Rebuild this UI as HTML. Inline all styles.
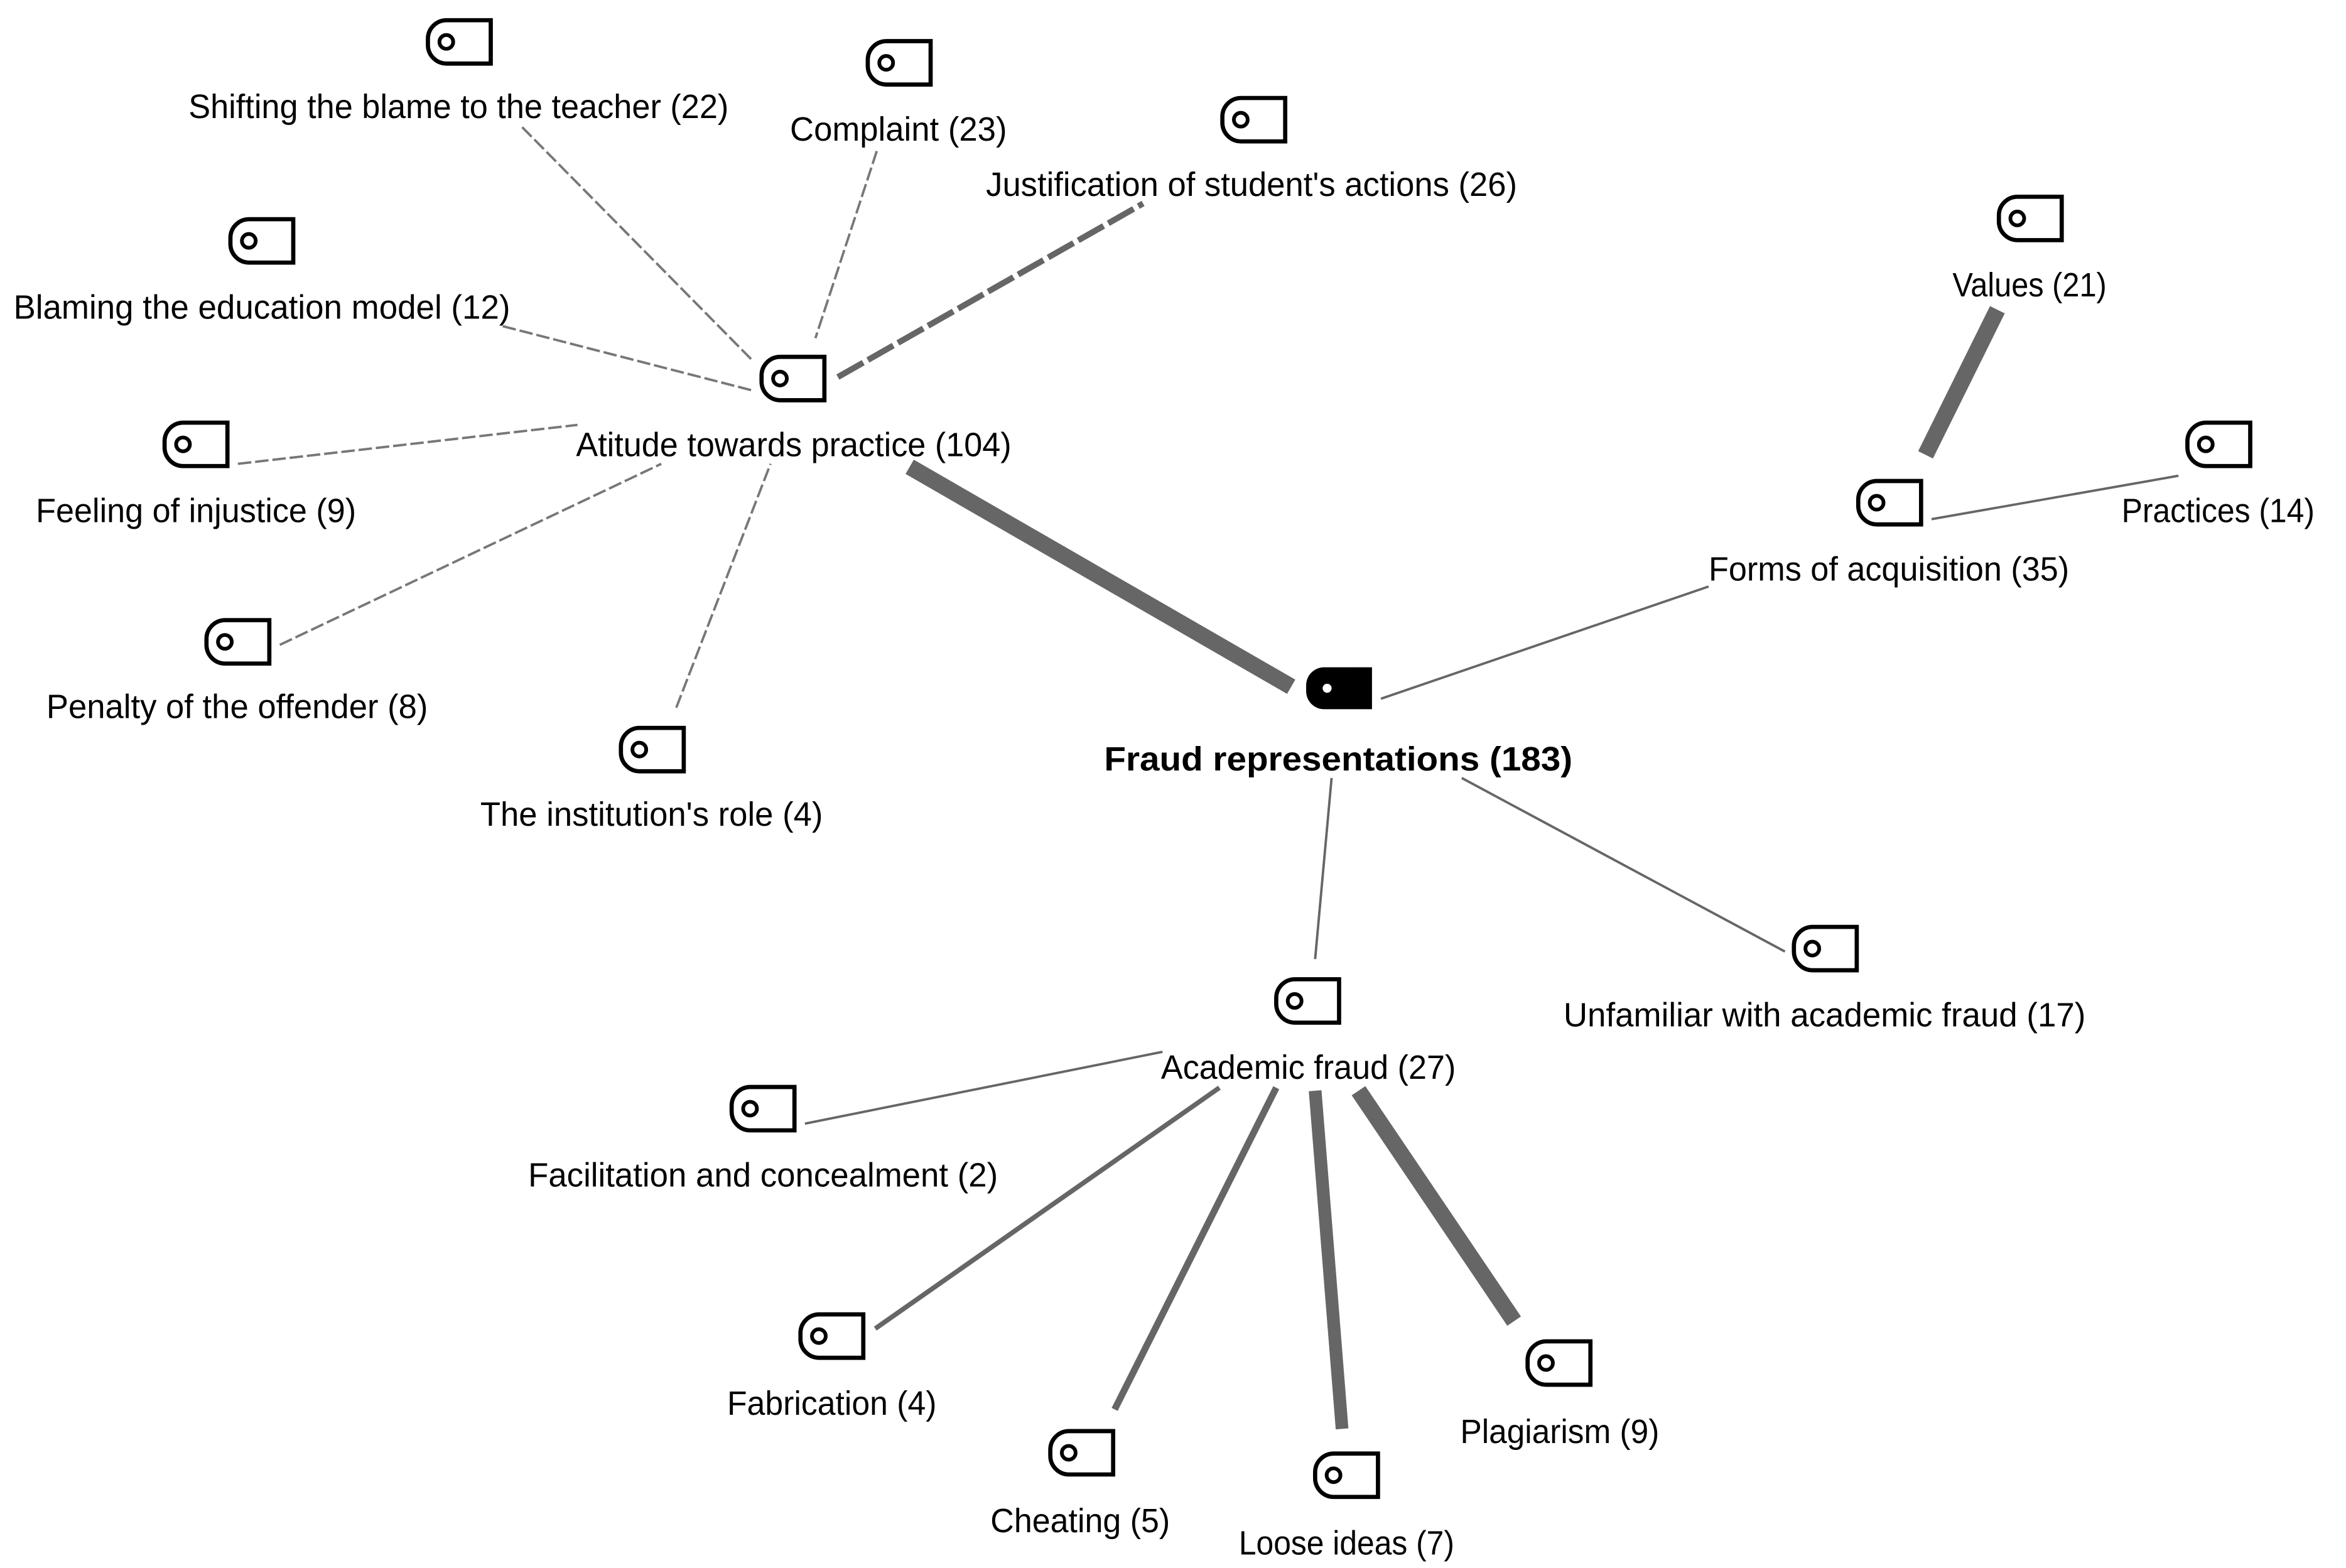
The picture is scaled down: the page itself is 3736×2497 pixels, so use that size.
<!DOCTYPE html>
<html><head><meta charset="utf-8"><style>
html,body{margin:0;padding:0;background:#fff}
svg{display:block}
text{font-family:"Liberation Sans",sans-serif;font-size:22.5px;fill:#000}
</style></head><body>
<svg width="3736" height="2497" viewBox="0 0 1568 1048" xmlns="http://www.w3.org/2000/svg">
<defs>
<g id="n"><path d="M21,-14.5H-8.5A12.5,12.5 0 0 0 -21,-2V2A12.5,12.5 0 0 0 -8.5,14.5H21Z" fill="#fff" stroke="#000" stroke-width="2.8"/><circle cx="-8.7" cy="0" r="4.6" fill="#fff" stroke="#000" stroke-width="2.5"/></g>
</defs>
<g stroke="#777" stroke-width="1.6" stroke-dasharray="9 2.6" fill="none">
<path d="M349,85L503,241"/><path d="M586,101L545,226"/><path d="M336,218L503,261"/><path d="M159,310L386,284"/><path d="M187,431L442,310"/><path d="M452,473L515,310"/>
</g>
<path d="M560,252L764,136" stroke="#666" stroke-width="4" stroke-dasharray="19.5 3.6" fill="none"/>
<g stroke="#666" fill="none">
<path d="M608,312L863,459" stroke-width="11"/>
<path d="M923,467L1142,392" stroke-width="1.6"/>
<path d="M1335,207L1287,304" stroke-width="11"/>
<path d="M1291,347L1456,318" stroke-width="1.6"/>
<path d="M890,520L879,641" stroke-width="1.6"/>
<path d="M977,520L1193,636" stroke-width="1.6"/>
<path d="M777,703L538,751" stroke-width="1.6"/>
<path d="M815,727L585,888" stroke-width="3.2"/>
<path d="M853,727L745,942" stroke-width="4.5"/>
<path d="M879,729L897,955" stroke-width="8.5"/>
<path d="M908,729L1012,883" stroke-width="11"/>
</g>
<use href="#n" x="307" y="28"/><use href="#n" x="601" y="42"/><use href="#n" x="838" y="80"/><use href="#n" x="175" y="161"/><use href="#n" x="530" y="253"/><use href="#n" x="131" y="297"/><use href="#n" x="159" y="429"/><use href="#n" x="436" y="501"/><use href="#n" x="1357" y="146"/><use href="#n" x="1483" y="297"/><use href="#n" x="1263" y="336"/><use href="#n" x="874" y="669"/><use href="#n" x="1220" y="634"/><use href="#n" x="510" y="741"/><use href="#n" x="556" y="893"/><use href="#n" x="723" y="971"/><use href="#n" x="900" y="986"/><use href="#n" x="1042" y="911"/>
<path d="M917,446H885A12,12 0 0 0 873,458V462A12,12 0 0 0 885,474H917Z" fill="#000"/>
<circle cx="887" cy="460" r="3" fill="#fff"/>
<text x="126" y="79" textLength="361" lengthAdjust="spacingAndGlyphs">Shifting the blame to the teacher (22)</text>
<text x="528" y="94" textLength="145" lengthAdjust="spacingAndGlyphs">Complaint (23)</text>
<text x="659" y="131" textLength="355" lengthAdjust="spacingAndGlyphs">Justification of student's actions (26)</text>
<text x="9" y="213" textLength="332" lengthAdjust="spacingAndGlyphs">Blaming the education model (12)</text>
<text x="385" y="305" textLength="291" lengthAdjust="spacingAndGlyphs">Atitude towards practice (104)</text>
<text x="24" y="349" textLength="214" lengthAdjust="spacingAndGlyphs">Feeling of injustice (9)</text>
<text x="31" y="480" textLength="255" lengthAdjust="spacingAndGlyphs">Penalty of the offender (8)</text>
<text x="321" y="552" textLength="229" lengthAdjust="spacingAndGlyphs">The institution's role (4)</text>
<text x="1305" y="198" textLength="103" lengthAdjust="spacingAndGlyphs">Values (21)</text>
<text x="1418" y="349" textLength="129" lengthAdjust="spacingAndGlyphs">Practices (14)</text>
<text x="1142" y="388" textLength="241" lengthAdjust="spacingAndGlyphs">Forms of acquisition (35)</text>
<text x="738" y="515" textLength="313" lengthAdjust="spacingAndGlyphs" font-weight="bold">Fraud representations (183)</text>
<text x="776" y="721" textLength="197" lengthAdjust="spacingAndGlyphs">Academic fraud (27)</text>
<text x="1045" y="686" textLength="349" lengthAdjust="spacingAndGlyphs">Unfamiliar with academic fraud (17)</text>
<text x="353" y="793" textLength="314" lengthAdjust="spacingAndGlyphs">Facilitation and concealment (2)</text>
<text x="486" y="945.500" textLength="140" lengthAdjust="spacingAndGlyphs">Fabrication (4)</text>
<text x="662" y="1024" textLength="120" lengthAdjust="spacingAndGlyphs">Cheating (5)</text>
<text x="828" y="1039" textLength="144" lengthAdjust="spacingAndGlyphs">Loose ideas (7)</text>
<text x="976" y="964.500" textLength="133" lengthAdjust="spacingAndGlyphs">Plagiarism (9)</text>
</svg>
</body></html>
